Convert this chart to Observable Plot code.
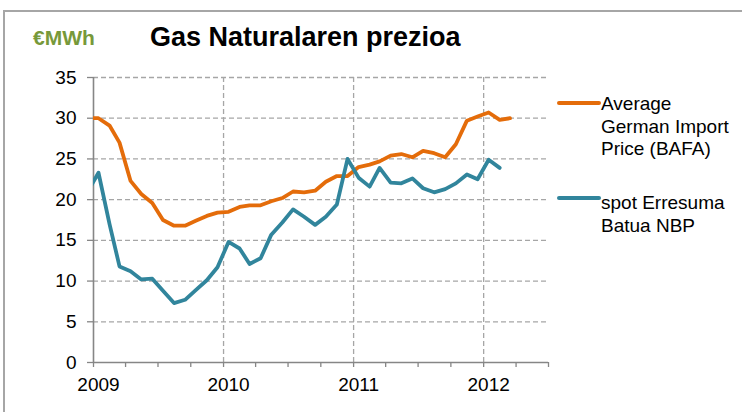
<!DOCTYPE html>
<html>
<head>
<meta charset="utf-8">
<script src="https://cdn.jsdelivr.net/npm/d3@7"></script>
<script src="https://cdn.jsdelivr.net/npm/@observablehq/plot@0.6"></script>
<style>
  html, body { margin: 0; padding: 0; background: #fff; }
  #wrap { position: relative; width: 742px; height: 412px; overflow: hidden; font-family: "Liberation Sans", Arial, sans-serif; }
  #border { position: absolute; left: 3px; top: 10px; width: 800px; height: 500px; border-top: 2px solid #a6a6a6; border-left: 2px solid #a6a6a6; box-sizing: border-box; }
  #chart { position: absolute; left: 0; top: 0; }
  .abs { position: absolute; white-space: nowrap; }
  #title { left: 150px; top: 24px; font-size: 27px; font-weight: bold; line-height: 27px; color: #000; }
  #unit { left: 33px; top: 27px; font-size: 21px; font-weight: bold; line-height: 21px; color: #77993a; }
  .leg { font-size: 19px; line-height: 22.5px; color: #000; left: 601px; }
  .sw { position: absolute; left: 557px; width: 44px; height: 4px; border-radius: 2px; }
</style>
</head>
<body>
<div id="wrap">
  <div id="border"></div>
  <div id="chart"></div>
  <div id="unit" class="abs">€MWh</div>
  <div id="title" class="abs">Gas Naturalaren prezioa</div>
  <div class="sw" style="top:101px; background:#E46C0A"></div>
  <div class="abs leg" style="top:93px">Average<br>German Import<br>Price (BAFA)</div>
  <div class="sw" style="top:195.5px; background:#31859C"></div>
  <div class="abs leg" style="top:192px">spot Erresuma<br>Batua NBP</div>
</div>
<script>
// Months from Dec 2008 to Mar 2012 (mid-month points)
const months = [
  "2008-12",
  "2009-01","2009-02","2009-03","2009-04","2009-05","2009-06","2009-07","2009-08","2009-09","2009-10","2009-11","2009-12",
  "2010-01","2010-02","2010-03","2010-04","2010-05","2010-06","2010-07","2010-08","2010-09","2010-10","2010-11","2010-12",
  "2011-01","2011-02","2011-03","2011-04","2011-05","2011-06","2011-07","2011-08","2011-09","2011-10","2011-11","2011-12",
  "2012-01","2012-02","2012-03"
];
const bafa = [
  30.0,
  30.0, 29.1, 27.0, 22.3, 20.7, 19.6, 17.5, 16.8, 16.8, 17.4, 18.0, 18.4,
  18.5, 19.1, 19.3, 19.3, 19.8, 20.2, 21.0, 20.9, 21.1, 22.2, 22.9, 22.9,
  24.0, 24.3, 24.7, 25.4, 25.6, 25.2, 26.0, 25.7, 25.2, 26.8, 29.7, 30.2,
  30.7, 29.8, 30.0
];
const nbp = [
  20.9,
  23.3, 17.0, 11.8, 11.2, 10.2, 10.3, 8.8, 7.3, 7.7, 8.9, 10.1, 11.7,
  14.8, 14.0, 12.1, 12.8, 15.7, 17.2, 18.8, 17.9, 16.9, 17.9, 19.4, 25.0,
  22.7, 21.6, 23.9, 22.1, 22.0, 22.6, 21.4, 20.9, 21.3, 22.0, 23.1, 22.5,
  24.9, 23.9
];
const seriesNames = ["Average German Import Price (BAFA)", "spot Erresuma Batua NBP"];
const yTicks = [0, 5, 10, 15, 20, 25, 30, 35];
const yearTicks = ["2009", "2010", "2011", "2012"];
const xStart = "2009-01-01", xEnd = "2012-07-01";

const mid = s => { const [y, m] = s.split("-").map(Number); return new Date(Date.UTC(y, m - 1, 15)); };
const rows = [];
bafa.forEach((v, i) => rows.push({date: mid(months[i]), value: v, series: seriesNames[0]}));
nbp.forEach((v, i) => rows.push({date: mid(months[i]), value: v, series: seriesNames[1]}));

const d0 = new Date(xStart + "T00:00:00Z"), d1 = new Date(xEnd + "T00:00:00Z");
const quarterTicks = d3.utcMonth.every(3).range(d0, new Date(d1.getTime() + 1));
const yearDates = yearTicks.map(y => new Date(Date.UTC(+y, 0, 1)));

const plot = Plot.plot({
  width: 742, height: 412,
  marginLeft: 93, marginRight: 194, marginTop: 77, marginBottom: 50,
  style: {fontFamily: "'Liberation Sans', Arial, sans-serif", fontSize: "19px", color: "#000", background: "transparent", overflow: "visible"},
  x: {type: "utc", domain: [d0, d1]},
  y: {domain: [0, 35]},
  color: {domain: seriesNames, range: ["#E46C0A", "#31859C"]},
  marks: [
    Plot.ruleY(yTicks.filter(t => t > 0), {stroke: "#a6a6a6", strokeWidth: 1.3, strokeDasharray: "5,3"}),
    Plot.ruleX(yearDates.slice(1), {stroke: "#a6a6a6", strokeWidth: 1.3, strokeDasharray: "5,3"}),
    Plot.axisY({ticks: yTicks, tickSize: 6, tickPadding: 11, label: null, stroke: "#868686", strokeWidth: 1.3, fill: "#000", fontSize: 19}),
    Plot.axisX({ticks: quarterTicks, tickSize: 5, text: null, label: null, stroke: "#868686", strokeWidth: 1.3}),
    Plot.axisX({ticks: yearDates, tickSize: 0, tickPadding: 15, dx: 5, tickFormat: d => String(d.getUTCFullYear()), label: null, fill: "#000", fontSize: 19}),
    Plot.ruleX([d0], {stroke: "#868686", strokeWidth: 1.6}),
    Plot.ruleY([0], {stroke: "#868686", strokeWidth: 1.6}),
    Plot.line(rows, {x: "date", y: "value", z: "series", stroke: "series", strokeWidth: 3.8, strokeLinejoin: "round", strokeLinecap: "round", clip: true})
  ]
});
document.getElementById("chart").appendChild(plot);
</script>
</body>
</html>
